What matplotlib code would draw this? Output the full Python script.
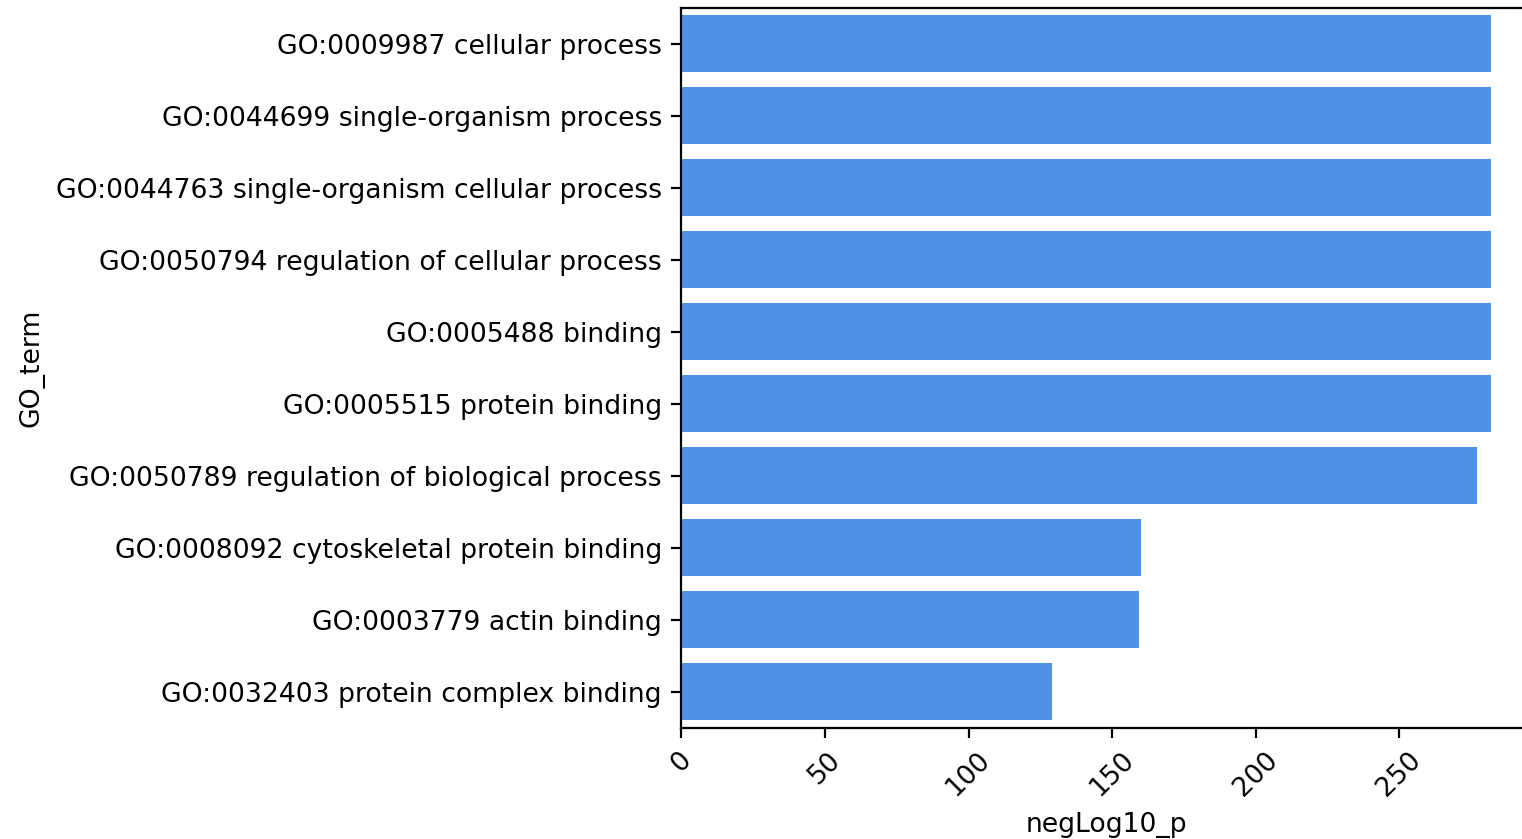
import matplotlib

matplotlib.use("Agg")
import matplotlib.pyplot as plt

go_terms = [
    "GO:0009987 cellular process",
    "GO:0044699 single-organism process",
    "GO:0044763 single-organism cellular process",
    "GO:0050794 regulation of cellular process",
    "GO:0005488 binding",
    "GO:0005515 protein binding",
    "GO:0050789 regulation of biological process",
    "GO:0008092 cytoskeletal protein binding",
    "GO:0003779 actin binding",
    "GO:0032403 protein complex binding",
]
neg_log10_p = [281.9, 281.9, 281.9, 281.9, 281.9, 281.9, 277.0, 160.1, 159.4, 129.1]

plt.rcParams["font.size"] = 9.6

fig = plt.figure(figsize=(7.61, 4.195), dpi=200)
ax = fig.add_axes([681.3 / 1522, (839 - 727.5) / 839, 850.1 / 1522, 720 / 839])

pos = list(range(len(go_terms)))
ax.barh(pos, neg_log10_p, height=0.8, color="#4f91e6")
ax.set_yticks(pos)
ax.set_yticklabels(go_terms)
ax.set_ylim(len(go_terms) - 0.5, -0.5)
ax.set_xticks([0, 50, 100, 150, 200, 250])
ax.tick_params(axis="x", labelrotation=45)
ax.set_xlabel("negLog10_p")
ax.set_ylabel("GO_term")

fig.savefig("out.png", dpi=200)
plt.close(fig)
